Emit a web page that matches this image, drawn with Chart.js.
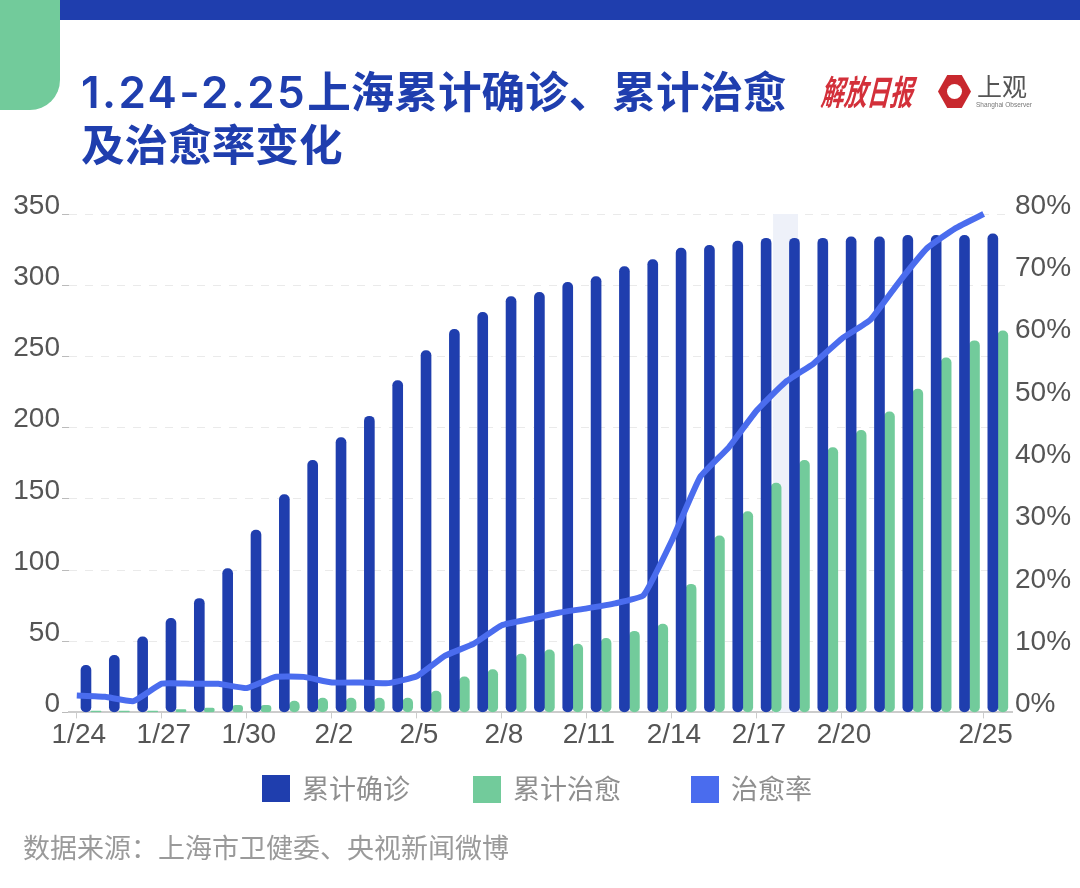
<!DOCTYPE html>
<html>
<head>
<meta charset="utf-8">
<title>上海累计确诊、累计治愈及治愈率变化</title>
<script src="https://cdn.jsdelivr.net/npm/chart.js@4"></script>
<style>
html, body { margin: 0; padding: 0; background: #fff; }
#page { position: relative; width: 1080px; height: 888px; overflow: hidden; font-family: "Noto Sans CJK SC", sans-serif; }
#myChart { position: absolute; left: 0; top: 0; }
#topbar { position: absolute; left: 60px; top: 0; width: 1020px; height: 20px; background: #1F3EAE; }
#corner { position: absolute; left: 0; top: 0; width: 60px; height: 110px; background: #72CB9B; border-bottom-right-radius: 30px; }
#title { position: absolute; left: 81px; top: 63px; font-size: 43.6px; line-height: 53px; font-weight: 700; color: #1F3EAE; white-space: nowrap; }
#title span { font-family: Inter; font-size: 44px; line-height: 0; font-weight: 600; letter-spacing: 2.4px; }
#source { position: absolute; left: 23px; top: 828px; font-size: 27px; line-height: 38px; color: #9a9a9a; white-space: nowrap; }
#legend span { position: absolute; white-space: nowrap; }
#legend b { position: absolute; width: 28px; height: 27px; }
#legend span { top: 768px; font-size: 27px; line-height: 40px; color: #8f8f8f; }
#logo1 { position: absolute; left: 824px; top: 70px; font-size: 23px; line-height: 40px; font-weight: 700; color: #D3303A; white-space: nowrap; transform: skewX(-14deg) scaleY(1.5); }
#logo2 { position: absolute; left: 938px; top: 75px; width: 33px; height: 33px; background: #C8282E; clip-path: polygon(28% 0, 72% 0, 100% 50%, 72% 100%, 28% 100%, 0 50%); }
#logo2 i { position: absolute; left: 9px; top: 9px; width: 15px; height: 15px; background: #fff; border-radius: 50%; }
#logo3 { position: absolute; left: 977px; top: 70px; font-size: 25px; line-height: 30px; color: #555; white-space: nowrap; }
#logo4 { position: absolute; left: 976px; top: 100px; font-size: 6.5px; line-height: 9px; color: #777; white-space: nowrap; font-family: "Liberation Sans"; }
</style>
</head>
<body>
<div id="page">
    <canvas id="myChart" width="1080" height="888"></canvas>
    <div id="topbar"></div>
    <div id="corner"></div>
    <div id="title"><span>1.24-2.25</span>上海累计确诊、累计治愈<br>及治愈率变化</div>
    <div id="logo1">解放日报</div>
    <div id="logo2"><i></i></div>
    <div id="logo3">上观</div>
    <div id="logo4">Shanghai Observer</div>
    <div id="legend">
        <b style="left:262px;top:775px;background:#1F3EAE"></b><span style="left:302px">累计确诊</span>
        <b style="left:473px;top:776px;background:#72CB9B"></b><span style="left:513px">累计治愈</span>
        <b style="left:691px;top:776px;background:#4A6CEE"></b><span style="left:731px">治愈率</span>
    </div>
    <div id="source">数据来源：上海市卫健委、央视新闻微博</div>
</div>
<script>
const dates = ['1/24','1/25','1/26','1/27','1/28','1/29','1/30','1/31','2/1','2/2','2/3','2/4','2/5','2/6','2/7','2/8','2/9','2/10','2/11','2/12','2/13','2/14','2/15','2/16','2/17','2/18','2/19','2/20','2/21','2/22','2/23','2/24','2/25']
const confirmed = [33,40,53,66,80,101,128,153,177,193,208,233,254,269,281,292,295,302,306,313,318,326,328,331,333,333,333,334,334,335,335,335,336]
const cured = [1,1,1,2,3,5,5,8,10,10,10,10,15,25,30,41,44,48,52,57,62,90,124,141,161,177,186,198,211,227,249,261,268]
const rate = [2.7,2.5,1.8,4.6,4.6,4.6,3.9,5.7,5.7,4.8,4.8,4.7,5.8,9.1,11,14,15,16,16.7,17.5,18.8,27.6,37.8,42.5,48.5,53,56,60,63,69,74.5,77.7,80]
const shownDates = ['1/24','1/27','1/30','2/2','2/5','2/8','2/11','2/14','2/17','2/20','2/25']
const leftTicks = [0,50,100,150,200,250,300,350]
const rightTicks = [0,10,20,30,40,50,60,70,80]
const hoverFrom = 24.57
const hoverTo = 25.45

// hover shadow behind the bars, the one on 2/18 in the picture
const hoverBand = {
    id: 'hoverBand',
    beforeDatasetsDraw(chart) {
        const x = chart.scales.x
        const area = chart.chartArea
        const left = x.getPixelForValue(hoverFrom)
        const right = x.getPixelForValue(hoverTo)
        chart.ctx.save()
        chart.ctx.fillStyle = '#EEF1F9'
        chart.ctx.fillRect(left, area.top, right - left, area.bottom - area.top)
        chart.ctx.restore()
    }
}

const tickFont = { family: 'Liberation Sans', size: 28 }
const ctx = document.getElementById('myChart')
new Chart(ctx, {
    data: {
        datasets: [{
            type: 'bar',
            label: '累计确诊',
            data: confirmed.map((v, i) => ({ x: i + 0.5, y: v })),
            backgroundColor: '#1F3EAE',
            borderRadius: 5,
            borderSkipped: false,
            barThickness: 10,
            yAxisID: 'y',
            order: 2
        }, {
            type: 'bar',
            label: '累计治愈',
            data: cured.map((v, i) => ({ x: i + 0.5, y: v })),
            backgroundColor: '#72CB9B',
            borderRadius: 5,
            borderSkipped: false,
            barThickness: 10,
            yAxisID: 'y',
            order: 2
        }, {
            type: 'line',
            label: '治愈率',
            data: rate.map((v, i) => ({ x: i, y: v })),
            borderColor: '#4A6CEE',
            backgroundColor: '#4A6CEE',
            borderWidth: 6,
            pointRadius: 0,
            tension: 0.12,
            clip: false,
            yAxisID: 'y1',
            order: 1
        }]
    },
    options: {
        responsive: false,
        animation: false,
        devicePixelRatio: 1,
        layout: { padding: { top: 214, bottom: 136 } },
        plugins: {
            tooltip: { enabled: false },
            legend: { display: false }
        },
        scales: {
            x: {
                type: 'linear',
                offset: false,
                min: -0.275,
                max: 33,
                afterBuildTicks: axis => {
                    axis.ticks = shownDates.map(d => ({ value: dates.indexOf(d) }))
                },
                ticks: {
                    autoSkip: false,
                    maxRotation: 0,
                    color: '#555',
                    font: tickFont,
                    padding: 0,
                    labelOffset: 2,
                    callback: value => dates[value]
                },
                grid: { offset: false, drawOnChartArea: false, color: '#ccc', tickLength: 6 },
                border: { color: '#ccc', width: 2 }
            },
            y: {
                position: 'left',
                min: 0,
                max: 350,
                afterBuildTicks: axis => {
                    axis.ticks = leftTicks.map(v => ({ value: v }))
                },
                afterFit: axis => { axis.width = 69 },
                ticks: { color: '#555', font: tickFont, padding: 2, labelOffset: -8 },
                grid: { color: '#eaeaea', tickColor: '#bbb', tickLength: 7 },
                border: { display: false, dash: [8, 8] }
            },
            y1: {
                position: 'right',
                min: 0,
                max: 80,
                afterBuildTicks: axis => {
                    axis.ticks = rightTicks.map(v => ({ value: v }))
                },
                afterFit: axis => { axis.width = 68 },
                ticks: {
                    color: '#555',
                    font: tickFont,
                    padding: 3,
                    labelOffset: -8,
                    callback: value => value + '%'
                },
                grid: { drawOnChartArea: false, drawTicks: false },
                border: { display: false }
            }
        }
    },
    plugins: [hoverBand]
})
</script>
</body>
</html>
